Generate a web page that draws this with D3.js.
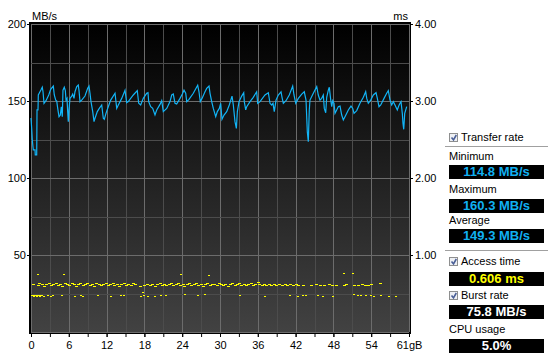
<!DOCTYPE html>
<html>
<head>
<meta charset="utf-8">
<script src="https://cdn.jsdelivr.net/npm/d3@7"></script>
<style>
  html, body { margin: 0; padding: 0; background: #ffffff; }
  svg { display: block; font-family: "Liberation Sans", Arial, sans-serif; }
</style>
</head>
<body>
<svg id="chart" width="548" height="360"></svg>
<script>
// ---------------- DATA ----------------
const capacityGB = 61;
const xTickValues = [0, 6.1, 12.2, 18.3, 24.4, 30.5, 36.6, 42.7, 48.8, 54.9, 61];
const xTickLabels = ["0", "6", "12", "18", "24", "30", "36", "42", "48", "54", "61gB"];
const yLeftTicks = [50, 100, 150, 200];
const yRightTicks = [1, 2, 3, 4];

// Transfer rate: [position GB, MB/s]
const transferRate = [
[0,139],[0.11,132.3],[0.21,124.7],[0.37,118.2],[0.65,118.2],[0.69,115],[0.92,115],[0.97,144.2],[1.13,144.2],[1.18,153.9],
[1.45,156],[1.66,157.6],[1.82,158.9],[1.94,156],[2.10,148.5],[2.42,150.2],[2.86,153.9],[3.18,157.6],[3.60,159.7],[3.76,153.9],
[3.99,150.6],[4.15,150],[4.31,145.2],[4.52,139.8],[4.73,140.9],[4.89,146.3],[5.05,139.8],[5.16,157],[5.37,158.9],[5.54,156.7],
[5.65,150.6],[5.81,151.7],[5.92,143.1],[6.02,136.6],[6.13,144.2],[6.29,151.7],[6.57,153.2],[6.73,154.5],[6.94,151.7],[7.10,156],
[7.38,159.3],[7.63,160.3],[7.75,156.7],[7.91,149.6],[8.18,150.6],[8.71,153.2],[9.15,158.2],[9.36,159.7],[9.52,155],[9.68,149.6],
[9.96,143.1],[10.17,136.6],[10.33,138.8],[10.70,143.1],[11.02,145.2],[11.41,147.4],[11.67,138.8],[11.83,138.1],[12.10,142],[12.47,146.3],
[12.86,150.6],[13.56,155],[13.83,145.2],[14.09,147.4],[14.64,151.7],[15.17,157],[15.44,148.9],[15.70,149.6],[16.51,153.9],[17.15,156.7],
[17.38,148.5],[17.70,147.4],[18.12,151.7],[18.67,155],[18.88,155.4],[18.99,149.6],[19.32,146.3],[19.64,145.2],[20.01,140.9],[20.29,144.2],
[20.82,147.8],[21.09,150.2],[21.35,143.1],[21.90,145.2],[22.43,149.6],[22.71,153.9],[22.96,154.5],[23.24,148.5],[23.51,148],[24.05,151.7],
[24.42,154.5],[24.69,157],[24.97,155],[25.13,149.6],[25.50,151.1],[26.19,155],[26.90,160.3],[27.11,156],[27.32,149.6],[27.60,151.7],
[28.08,156],[28.35,158.2],[28.73,159.7],[28.89,155],[29.16,149.6],[29.42,145.2],[29.81,139.8],[30.07,143.1],[30.39,145.2],[30.61,148.5],
[30.82,138.1],[31.15,140.9],[31.58,143.1],[32.00,147.4],[32.44,153.2],[32.65,147.4],[32.92,136.6],[33.14,132.2],[33.30,143.1],[33.57,149.6],
[34.00,153.2],[34.33,155.4],[34.42,149.6],[34.65,144.2],[34.81,146.3],[35.34,149.6],[35.87,152.4],[36.42,156],[36.58,148.5],[36.96,149.6],
[37.76,153.9],[38.30,155.4],[38.57,148.5],[38.84,147.4],[39.05,148.5],[39.26,143.1],[39.54,150.6],[39.91,153.9],[40.35,156],[40.51,152.4],
[40.72,148.5],[41.15,150.2],[41.68,153.9],[42.23,159.7],[42.44,153.9],[42.72,148.5],[43.14,151.7],[43.69,154.5],[44.10,156],[44.38,150.6],
[44.59,130],[44.75,123.6],[44.91,144.2],[45.02,150.6],[45.56,155],[46.11,159.3],[46.36,153.9],[46.64,150.6],[46.91,151.7],[47.17,153.9],
[47.33,145.2],[47.56,142.4],[47.72,152.4],[47.98,157],[48.14,158.9],[48.37,150.6],[48.53,146.3],[48.69,150.2],[48.90,148.5],[49.06,142],
[49.33,144.2],[49.59,146.3],[49.87,146.7],[50.14,140.9],[50.40,137.7],[50.67,139.8],[51.21,144.2],[51.64,146.7],[51.92,145.2],[52.13,142],
[52.56,143.8],[53.09,148.5],[53.63,152.4],[54.01,156],[54.18,151.7],[54.43,148.5],[54.82,150.6],[55.24,153.9],[55.68,155.4],[55.89,151.7],
[56.16,146.3],[56.44,147.4],[56.97,151.7],[57.40,155],[57.66,156.7],[57.94,150.6],[58.21,147.4],[58.47,149.6],[58.74,147.4],[59.11,144.2],
[59.34,146.7],[59.55,148.5],[59.71,149.6],[59.92,142],[60.03,135.5],[60.15,131.6],[60.31,142],[60.63,146.3]
];

// Access time samples: [position GB, ms]
const accessMain = [
[0.1,0.62],[0.9,0.61],[1.2,0.63],[1.6,0.62],[2.0,0.60],[2.3,0.62],[2.7,0.63],[3.1,0.61],[3.4,0.62],[3.8,0.64],
[4.2,0.61],[4.5,0.62],[4.9,0.60],[5.3,0.63],[5.6,0.62],[6.0,0.61],[6.4,0.63],[6.7,0.62],[7.1,0.60],[7.5,0.62],
[7.8,0.64],[8.2,0.61],[8.6,0.62],[8.9,0.63],[9.3,0.61],[9.7,0.62],[10.0,0.60],[10.4,0.63],[10.8,0.62],[11.1,0.61],
[11.5,0.62],[11.9,0.63],[12.2,0.61],[12.6,0.62],[13.0,0.64],[13.3,0.61],[13.7,0.62],[14.1,0.60],[14.4,0.62],[14.8,0.63],
[15.2,0.61],[15.5,0.62],[15.9,0.61],[16.3,0.64],[16.6,0.62],[17.4,0.60],[18.0,0.61],[18.5,0.62],[19.0,0.61],[19.4,0.62],
[19.8,0.60],[20.2,0.62],[20.6,0.63],[21.0,0.61],[21.3,0.62],[21.7,0.61],[22.1,0.62],[22.4,0.63],[22.8,0.61],[23.2,0.62],
[23.5,0.64],[23.9,0.61],[24.3,0.62],[24.6,0.60],[25.0,0.62],[25.4,0.63],[25.7,0.61],[26.1,0.62],[26.5,0.63],[26.8,0.61],
[27.2,0.62],[27.6,0.60],[27.9,0.62],[28.3,0.63],[28.7,0.61],[29.0,0.62],[29.4,0.62],[29.8,0.61],[30.1,0.63],[30.5,0.62],
[30.9,0.61],[31.2,0.62],[31.6,0.60],[32.0,0.62],[32.3,0.63],[32.7,0.61],[33.1,0.62],[33.4,0.64],[33.8,0.61],[34.2,0.62],
[34.5,0.61],[34.9,0.62],[35.3,0.63],[35.6,0.61],[36.0,0.62],[36.4,0.65],[36.7,0.62],[37.1,0.61],[37.5,0.62],[37.8,0.61],
[38.2,0.62],[38.6,0.61],[39.0,0.62],[39.4,0.61],[39.8,0.62],[40.3,0.61],[40.8,0.62],[41.2,0.61],[41.6,0.62],[42.1,0.61],
[42.6,0.62],[43.0,0.61],[43.7,0.61],[45.0,0.61],[45.8,0.62],[46.5,0.61],[47.2,0.61],[48.0,0.62],[48.4,0.61],[49.0,0.61],
[50.4,0.61],[50.7,0.62],[52.0,0.61],[52.6,0.61],[53.3,0.62],[53.7,0.61],[54.2,0.61],[54.7,0.62],[56.2,0.63]
];
const accessLow = [
[0.0,0.48],[0.16,0.48],[0.32,0.47],[0.48,0.48],[0.65,0.48],[0.81,0.47],[0.97,0.48],[1.13,0.48],[1.29,0.47],[1.45,0.48],
[1.61,0.48],[1.94,0.47],[2.53,0.48],[3.07,0.47],[3.34,0.48],[4.84,0.48],[6.94,0.47],[7.91,0.48],[8.28,0.47],[10.60,0.48],
[12.75,0.47],[14.36,0.48],[14.90,0.48],[17.59,0.47],[17.86,0.52],[18.12,0.48],[18.67,0.47],[19.90,0.47],[20.82,0.48],[21.62,0.48],
[24.74,0.49],[26.74,0.48],[27.92,0.49],[33.62,0.48],[37.65,0.47],[41.68,0.48],[42.88,0.47],[43.69,0.48],[44.22,0.48],[46.11,0.48],
[46.91,0.47],[48.53,0.47],[52.01,0.49],[52.56,0.48],[53.09,0.48],[53.90,0.48],[54.71,0.48],[55.14,0.47],[56.32,0.48],[57.66,0.47],
[58.74,0.47]
];
const accessHigh = [[1.02,0.75],[5.21,0.75],[24.05,0.75],[28.61,0.74],[50.30,0.76],[51.85,0.76]];

// Summary panel
const statLabels = ["Minimum", "Maximum", "Average"];
const statValues = ["114.8 MB/s", "160.3 MB/s", "149.3 MB/s"];
const accessTimeValue = "0.606 ms";
const burstRateValue = "75.8 MB/s";
const cpuUsageValue = "5.0%";

// ---------------- LAYOUT ----------------
const svg = d3.select("#chart");
const X0 = 31, X1 = 409, Y0 = 24, Y1 = 332;
const FONT = "'Liberation Sans', Arial, sans-serif";

const x = d3.scaleLinear().domain([0, capacityGB]).range([X0, X1]);
const y = d3.scaleLinear().domain([0, 200]).range([Y1, Y0]);
const yMs = d3.scaleLinear().domain([0, 4]).range([Y1, Y0]);
const gridX = d3.scaleLinear().domain([0, 20]).range([X0, X1]);
const gridY = d3.scaleLinear().domain([0, 8]).range([Y1, Y0]);

const defs = svg.append("defs");
const grad = defs.append("linearGradient").attr("id", "bg").attr("x1", 0).attr("y1", 0).attr("x2", 0).attr("y2", 1);
grad.append("stop").attr("offset", "0%").attr("stop-color", "#000000");
grad.append("stop").attr("offset", "100%").attr("stop-color", "#424242");

svg.append("rect").attr("width", 548).attr("height", 360).attr("fill", "#ffffff");

// plot frame + background
svg.append("rect").attr("x", X0 - 2).attr("y", Y0 - 2).attr("width", X1 - X0 + 4).attr("height", Y1 - Y0 + 4).attr("fill", "#000");
svg.append("rect").attr("x", X0).attr("y", Y0).attr("width", X1 - X0).attr("height", Y1 - Y0).attr("fill", "url(#bg)");

// grid
const grid = svg.append("g").attr("shape-rendering", "crispEdges");
grid.selectAll("line.v").data(d3.range(21)).join("line")
  .attr("x1", d => Math.round(gridX(d)) + 0.5).attr("x2", d => Math.round(gridX(d)) + 0.5)
  .attr("y1", Y0).attr("y2", Y1)
  .attr("stroke", d => d % 2 === 0 ? "#6c6c6c" : "#4c4c4c").attr("stroke-width", 1);
grid.selectAll("line.h").data(d3.range(9)).join("line")
  .attr("x1", X0).attr("x2", X1)
  .attr("y1", d => Math.round(gridY(d)) + 0.5).attr("y2", d => Math.round(gridY(d)) + 0.5)
  .attr("stroke", d => d % 2 === 0 ? "#6c6c6c" : "#4c4c4c").attr("stroke-width", 1);

// access time points
const pts = svg.append("g").attr("shape-rendering", "crispEdges").attr("fill", "#ffff00");
pts.selectAll("rect.main").data(accessMain).join("rect").attr("class", "main")
  .attr("x", d => Math.round(x(d[0])))
  .attr("y", d => Math.round(yMs(d[1])))
  .attr("width", 3).attr("height", 1);
pts.selectAll("rect.other").data(accessLow.concat(accessHigh)).join("rect").attr("class", "other")
  .attr("x", d => Math.round(x(d[0])))
  .attr("y", d => Math.round(yMs(d[1])))
  .attr("width", 2).attr("height", 1);

// transfer rate line
const line = d3.line().x(d => x(d[0])).y(d => y(d[1]));
svg.append("path").datum(transferRate)
  .attr("d", line).attr("fill", "none")
  .attr("stroke", "#12b4f6").attr("stroke-width", 1.2).attr("stroke-linejoin", "miter");

// axes
function styleAxis(g) {
  g.select(".domain").remove();
  g.selectAll(".tick line").attr("stroke", "#000");
  g.selectAll(".tick text").attr("fill", "#000").attr("font-size", "11px").attr("font-family", FONT);
}
svg.append("g").attr("transform", `translate(${X0 - 1},0)`)
  .call(d3.axisLeft(y).tickValues(yLeftTicks).tickSize(3).tickPadding(1)).call(styleAxis);
svg.append("g").attr("transform", `translate(${X1 + 1},0)`)
  .call(d3.axisRight(yMs).tickValues(yRightTicks).tickFormat(d3.format(".2f")).tickSize(3).tickPadding(2)).call(styleAxis);
svg.append("g").attr("transform", `translate(0,${Y1 + 2})`)
  .call(d3.axisBottom(gridX).tickValues(d3.range(21)).tickFormat("").tickSize(3)).call(styleAxis);
svg.append("g").attr("transform", `translate(0,${Y1 + 2})`)
  .call(d3.axisBottom(x).tickValues(xTickValues).tickFormat((d, i) => xTickLabels[i]).tickSize(3).tickPadding(4)).call(styleAxis);

svg.append("text").attr("x", 32).attr("y", 17).attr("dominant-baseline", "middle")
  .attr("font-size", "11px").attr("font-family", FONT).text("MB/s");
svg.append("text").attr("x", 408).attr("y", 17).attr("dominant-baseline", "middle").attr("text-anchor", "end")
  .attr("font-size", "11px").attr("font-family", FONT).text("ms");

// ---------------- SIDE PANEL ----------------
const panel = svg.append("g").attr("font-family", FONT);
const BX = 449, BW = 95, BH = 14;

function separator(yy) {
  panel.append("line").attr("x1", 445).attr("x2", 548).attr("y1", yy + 0.5).attr("y2", yy + 0.5)
    .attr("stroke", "#a0a0a0").attr("shape-rendering", "crispEdges");
  panel.append("line").attr("x1", 445).attr("x2", 548).attr("y1", yy + 1.5).attr("y2", yy + 1.5)
    .attr("stroke", "#ffffff").attr("shape-rendering", "crispEdges");
}
function checkbox(yc, label) {
  const g = panel.append("g");
  g.append("rect").attr("x", 449.5).attr("y", yc - 4.5).attr("width", 8).attr("height", 8)
    .attr("fill", "#eef0f4").attr("stroke", "#8e8f8f");
  g.append("path").attr("d", `M451.5,${yc - 0.5} L453.5,${yc + 1.8} L456.3,${yc - 3}`)
    .attr("fill", "none").attr("stroke", "#4a5f97").attr("stroke-width", 1.6);
  g.append("text").attr("x", 461).attr("y", yc).attr("dominant-baseline", "middle")
    .attr("font-size", "11px").attr("fill", "#000").text(label);
}
function label(yc, txt) {
  panel.append("text").attr("x", 449).attr("y", yc).attr("dominant-baseline", "middle")
    .attr("font-size", "11px").attr("fill", "#000").text(txt);
}
function valueBox(top, txt, color) {
  panel.append("rect").attr("x", BX).attr("y", top).attr("width", BW).attr("height", BH).attr("fill", "#000");
  panel.append("text").attr("x", BX + BW / 2).attr("y", top + BH / 2 + 0.5)
    .attr("dominant-baseline", "middle").attr("text-anchor", "middle")
    .attr("font-size", "13px").attr("font-weight", "bold").attr("fill", color).text(txt);
}

checkbox(138, "Transfer rate");
separator(146);
const statLabelY = [157, 190, 221];
const statBoxY = [165, 199, 229];
statLabels.forEach((s, i) => {
  label(statLabelY[i], s);
  valueBox(statBoxY[i], statValues[i], "#10b0f2");
});
separator(250);
checkbox(262, "Access time");
valueBox(272, accessTimeValue, "#ffff00");
checkbox(296, "Burst rate");
valueBox(305, burstRateValue, "#ffffff");
label(330, "CPU usage");
valueBox(339, cpuUsageValue, "#ffffff");
</script>
</body>
</html>
